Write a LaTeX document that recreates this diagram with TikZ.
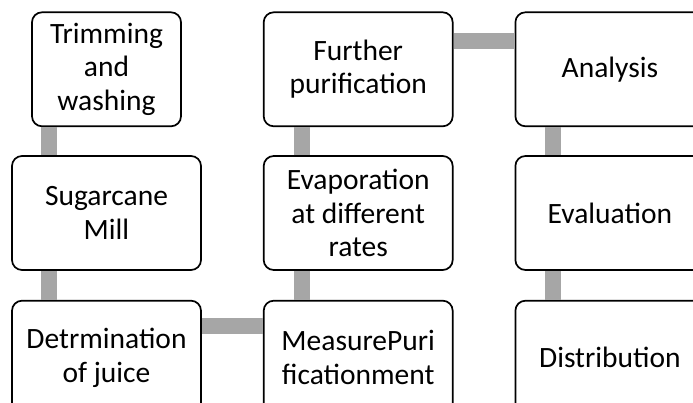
\documentclass[tikz,border=0pt]{standalone}
\usepackage{fontspec}
\setmainfont{Carlito}
\usetikzlibrary{positioning}
\definecolor{linkgray}{HTML}{A6A6A6}
\tikzset{node distance=29pt, % gap between two boxes
every node/.style={ % text of all boxes
font=\fontsize{29.5}{33.5}\selectfont},
stage/.style={ % the rounded process boxes
draw=black, line width=1.7pt, rounded corners=10pt,
fill=white, align=center, inner sep=0pt,
minimum width=189pt, minimum height=114pt},
link/.style={ % thick grey bars between boxes
draw=linkgray, line width=16pt}}

\begin{document}
\begin{tikzpicture}[x=1pt, y=1pt]
    \useasboundingbox (0,0) rectangle (693,-403);
    \clip (0,0) rectangle (693,-403);

    \node[stage] (mill) at (106.5,-213) {Sugarcane\\Mill};
    \node[stage, minimum width=149pt, above=28pt of mill] (trim) {Trimming\\and\\washing};
    \node[stage, below=29pt of mill] (juice) {Detrmination\\of juice};
    \node[stage, right=61pt of juice] (measure) {MeasurePuri\\ficationment};
    \node[stage, above=29pt of measure] (evap) {Evaporation\\at different\\rates};
    \node[stage, above=28pt of evap] (further) {Further\\purification};
    \node[stage, right=61pt of further] (analysis) {Analysis};
    \node[stage, below=28pt of analysis] (evalu) {Evaluation};
    \node[stage, below=29pt of evalu] (distrib) {Distribution};

    \draw[link] ([xshift=18pt]trim.south west) -- ([xshift=38pt]mill.north west);
    \draw[link] ([xshift=38pt]mill.south west) -- ([xshift=38pt]juice.north west);
    \draw[link] ([yshift=-26.5pt]juice.north east) -- ([yshift=-26.5pt]measure.north west);
    \draw[link] ([xshift=39.5pt]measure.north west) -- ([xshift=39.5pt]evap.south west);
    \draw[link] ([xshift=39.5pt]evap.north west) -- ([xshift=39.5pt]further.south west);
    \draw[link] ([yshift=-29.5pt]further.north east) -- ([yshift=-29.5pt]analysis.north west);
    \draw[link] ([xshift=38.5pt]analysis.south west) -- ([xshift=38.5pt]evalu.north west);
    \draw[link] ([xshift=38.5pt]evalu.south west) -- ([xshift=38.5pt]distrib.north west);

\end{tikzpicture}
\end{document}
